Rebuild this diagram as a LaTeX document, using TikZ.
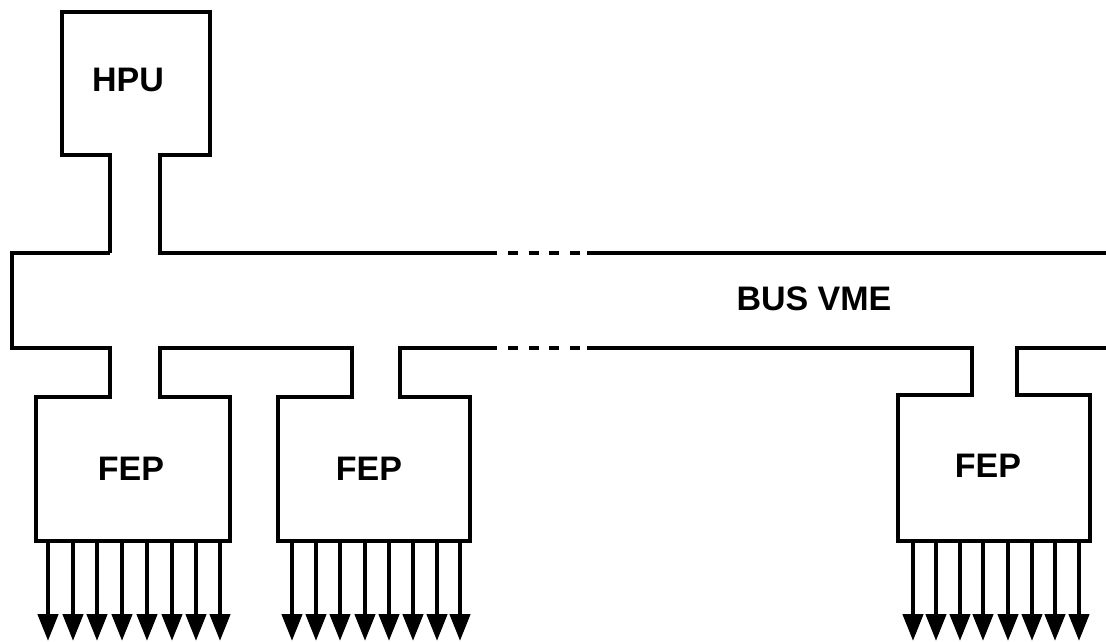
\documentclass[tikz,border=0pt]{standalone}
\usepackage{fontspec}
\setmainfont{Liberation Sans}
\usetikzlibrary{arrows.meta}
\tikzset{
  outline/.style={line width=4.2pt, line join=miter, black},
  busdash/.style={line width=4.2pt, dash pattern=on 10pt off 10.67pt},
  label/.style={font=\fontsize{34}{38}\selectfont\bfseries, inner sep=0pt, anchor=center},
  outarrow/.style={line width=4.5pt, -{Triangle[width=20pt,length=27pt]}}
}
\begin{document}
\begin{tikzpicture}[x=1pt,y=-1pt]
\useasboundingbox (0,0) rectangle (1106,641);
% HPU and bus top
\draw[outline] (110,253) -- (110,155) -- (62,155) -- (62,12) -- (210,12) -- (210,155) -- (160,155) -- (160,253) -- (497,253);
\draw[outline] (587,253) -- (1106,253);
\draw[busdash] (508,253) -- (580,253);
% left part of bus, FEP1 and FEP2
\draw[outline] (110,253) -- (12,253) -- (12,348) -- (110,348) -- (110,397) -- (36,397) -- (36,541) -- (230,541) -- (230,397) -- (160,397) -- (160,348) -- (352,348) -- (352,397) -- (278,397) -- (278,541) -- (470,541) -- (470,397) -- (400,397) -- (400,348) -- (497,348);
\draw[busdash] (508,348) -- (580,348);
% right part with FEP3
\draw[outline] (587,348) -- (972,348) -- (972,395) -- (898,395) -- (898,541) -- (1090,541) -- (1090,395) -- (1017,395) -- (1017,348) -- (1106,348);
% labels
\node[label] (hpu) at (128,80) {HPU};
\node[label] (bus) at (814,299) {BUS VME};
\node[label] (fep1) at (131,469) {FEP};
\node[label] (fep2) at (369,469) {FEP};
\node[label] (fep3) at (988,466) {FEP};
% output arrows
\foreach \x [count=\i] in {48,73,97,122,147,172,196,220} {
  \coordinate (a1s\i) at (\x,541);
  \coordinate (a1e\i) at (\x,641);
  \draw[outarrow] (a1s\i) -- (a1e\i);
}
\foreach \x [count=\i] in {292,316,340,365,389,413,437,460} {
  \coordinate (a2s\i) at (\x,541);
  \coordinate (a2e\i) at (\x,641);
  \draw[outarrow] (a2s\i) -- (a2e\i);
}
\foreach \x [count=\i] in {913,936,960,983,1008,1032,1055,1079} {
  \coordinate (a3s\i) at (\x,541);
  \coordinate (a3e\i) at (\x,641);
  \draw[outarrow] (a3s\i) -- (a3e\i);
}
\end{tikzpicture}
\end{document}
